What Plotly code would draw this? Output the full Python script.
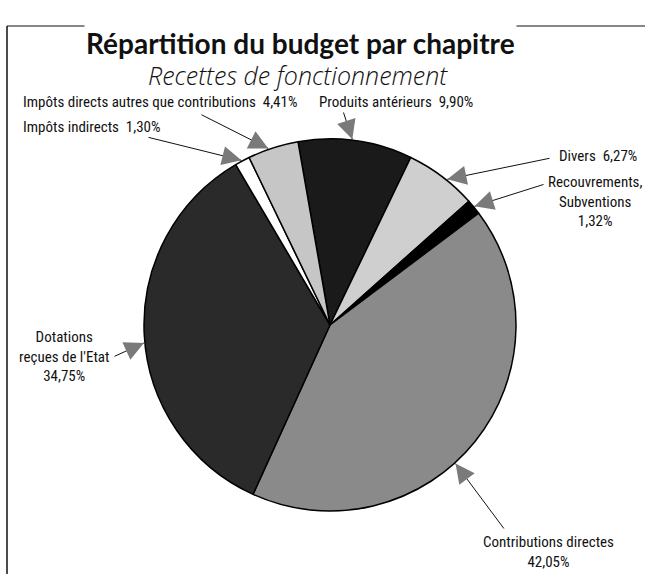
import math
import plotly.graph_objects as go

# ---- data ----
categories = [
    "Produits antérieurs",
    "Divers",
    "Recouvrements, Subventions",
    "Contributions directes",
    "Dotations reçues de l'Etat",
    "Impôts indirects",
    "Impôts directs autres que contributions",
]
shares = [9.90, 6.27, 1.32, 42.05, 34.75, 1.30, 4.41]
label_texts = [
    "Produits antérieurs\u00a0\u00a09,90%",
    "Divers\u00a0\u00a06,27%",
    "Recouvrements,<br>Subventions<br>1,32%",
    "Contributions directes<br>42,05%",
    "Dotations<br>reçues de l'Etat<br>34,75%",
    "Impôts indirects\u00a0\u00a01,30%",
    "Impôts directs autres que contributions\u00a0\u00a04,41%",
]

# ---- style ----
colors = ["#1a1a1a", "#cfcfcf", "#000000", "#8a8a8a", "#2a2a2a", "#ffffff", "#c6c6c6"]
W, H = 645, 574
CX, CY, R = 330, 325, 186
ROTATION = -9.9
# label anchor (pixels), anchor side, arrow tail (pixels), pointer position within slice
label_pos = [(317, 102), (557, 156), (595, 201), (548, 552), (64, 356), (21, 127), (21, 102)]
label_anchor = ["left", "left", "center", "center", "center", "left", "left"]
arrow_tail = [(343, 111), (551, 158), (545, 184), (505, 530), (113, 357), (147, 137), (200, 114)]
pointer_frac = [0.47, 0.58, 0.48, 0.56, 0.48, 0.46, 0.41]
label_font = dict(family="Liberation Sans Narrow, Roboto Condensed, Lato", size=15, color="#111")


def px(x):
    return x / W


def py(y):
    return 1 - y / H


fig = go.Figure(
    go.Pie(
        labels=categories,
        values=shares,
        sort=False,
        direction="clockwise",
        rotation=ROTATION,
        marker=dict(colors=colors, line=dict(color="#000", width=1.5)),
        textinfo="none",
        hoverinfo="label+percent",
        showlegend=False,
        domain=dict(x=[px(CX - R), px(CX + R)], y=[py(CY + R), py(CY - R)]),
    )
)

annotations = []
total = sum(shares)
start = ROTATION
for i, v in enumerate(shares):
    span = v / total * 360.0
    ang = math.radians(start + span * pointer_frac[i])
    start += span
    tx = CX + (R + 1) * math.sin(ang)
    ty = CY - (R + 1) * math.cos(ang)
    qx, qy = arrow_tail[i]
    # thin black shaft
    annotations.append(dict(
        x=px(tx), y=py(ty), xref="paper", yref="paper",
        ax=qx - tx, ay=qy - ty, axref="pixel", ayref="pixel",
        text="", showarrow=True, arrowhead=0, arrowwidth=1, arrowcolor="#111",
    ))
    # grey arrow head
    d = math.hypot(qx - tx, qy - ty)
    hx, hy = (qx - tx) / d * 10, (qy - ty) / d * 10
    annotations.append(dict(
        x=px(tx), y=py(ty), xref="paper", yref="paper",
        ax=hx, ay=hy, axref="pixel", ayref="pixel",
        text="", showarrow=True, arrowhead=2, arrowsize=3.2, arrowwidth=1.2,
        arrowcolor="#7a7a7a",
    ))
    lx, ly = label_pos[i]
    annotations.append(dict(
        x=px(lx), y=py(ly), xref="paper", yref="paper", showarrow=False,
        xanchor=label_anchor[i], yanchor="middle",
        text=label_texts[i], font=label_font, align="center",
    ))

annotations.append(dict(
    x=px(300), y=py(24), xref="paper", yref="paper", showarrow=False,
    text="<b>Répartition du budget par chapitre</b>", bgcolor="#fff",
    font=dict(family="Lato", size=28, color="#111"), borderpad=1,
))
annotations.append(dict(
    x=px(298), y=py(56), xref="paper", yref="paper", showarrow=False,
    text="Recettes de fonctionnement",
    font=dict(family="Open Sans", size=25, color="#111", style="italic", weight=300),
))

shapes = [
    dict(type="line", xref="paper", yref="paper", x0=px(7), x1=px(645), y0=py(26), y1=py(26),
         line=dict(color="#111", width=1.2), layer="below"),
    dict(type="line", xref="paper", yref="paper", x0=px(7), x1=px(7), y0=py(26), y1=0,
         line=dict(color="#111", width=1.5), layer="below"),
]

fig.update_layout(
    width=W, height=H,
    margin=dict(l=0, r=0, t=0, b=0),
    paper_bgcolor="#fff", plot_bgcolor="#fff",
    annotations=annotations, shapes=shapes,
)

fig.write_html(
    "out.html",
    config={"displayModeBar": False},
    post_script="document.body.style.margin='0px';",
)
